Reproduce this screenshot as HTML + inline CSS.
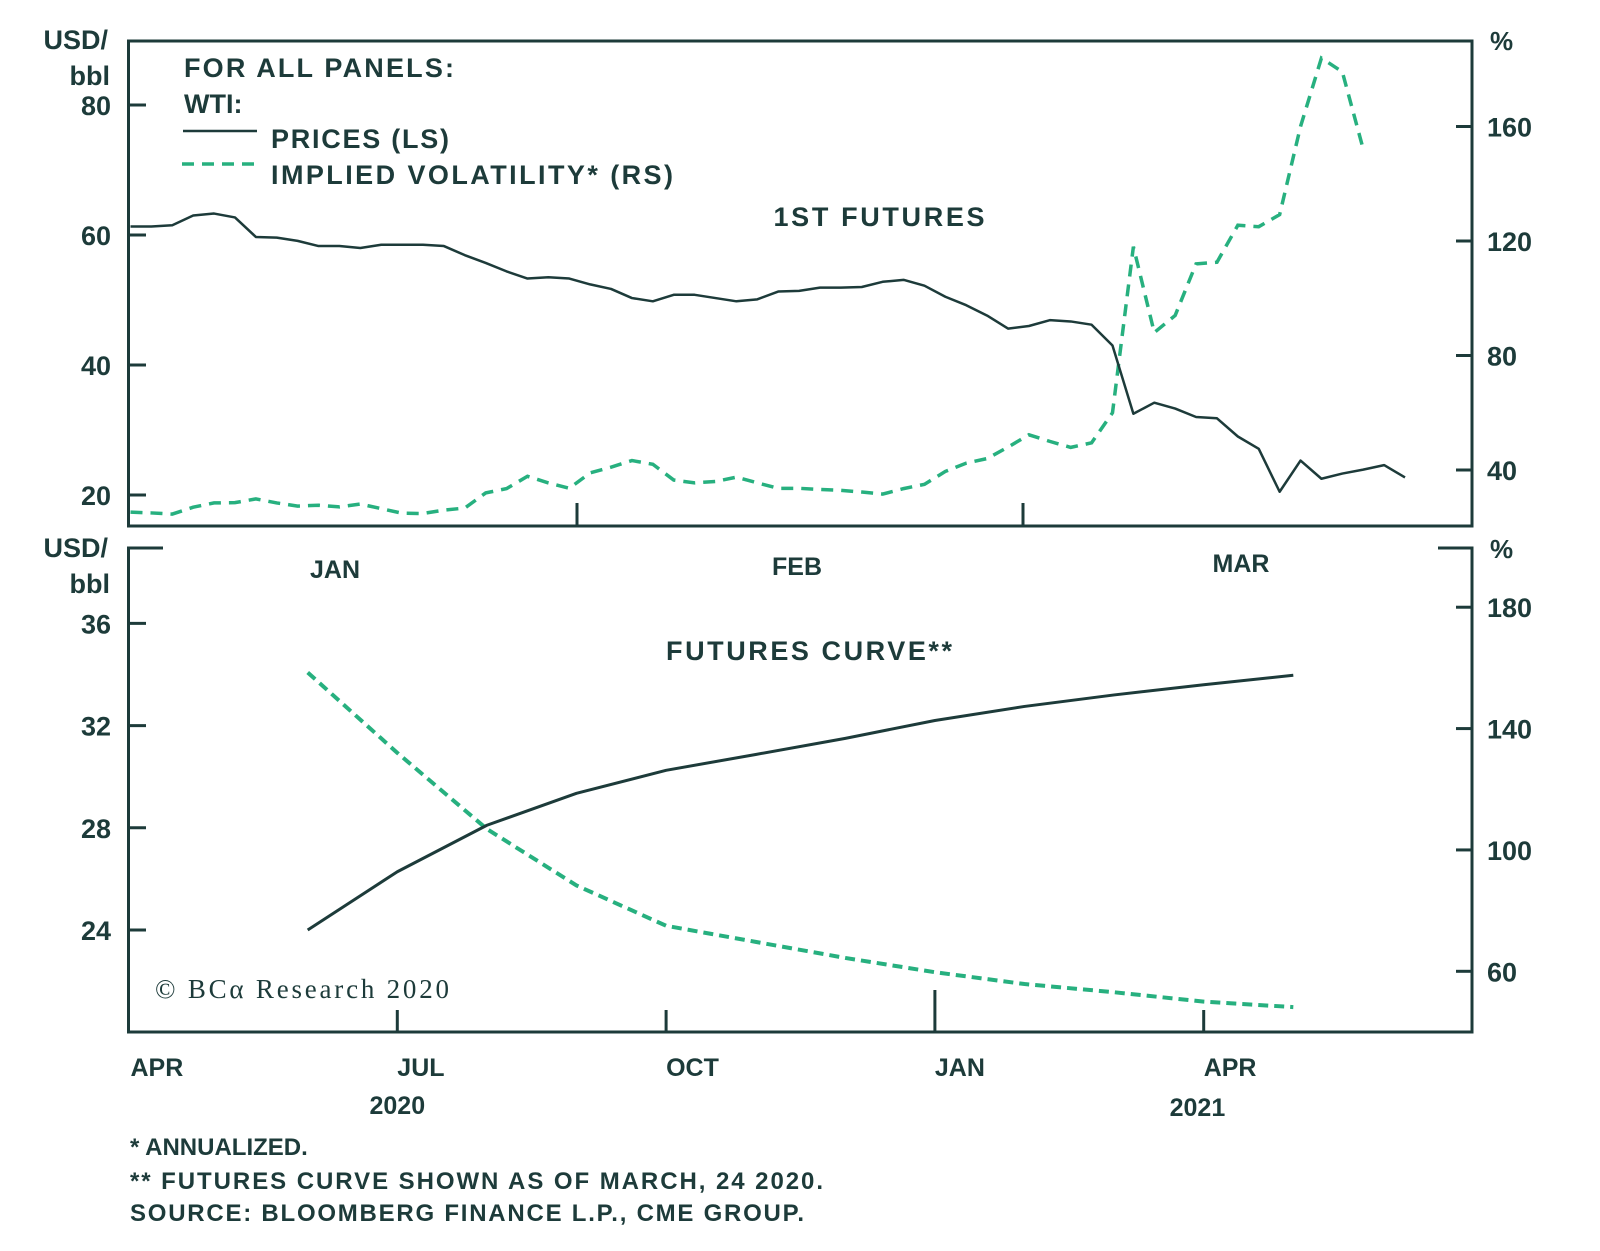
<!DOCTYPE html>
<html><head><meta charset="utf-8"><style>
html,body{margin:0;padding:0;background:#fff;}
svg{display:block;}
text{font-family:"Liberation Sans",sans-serif;font-weight:bold;fill:#1d3b3a;}
</style></head><body>
<svg id="chart" width="1600" height="1251" viewBox="0 0 1600 1251" xmlns="http://www.w3.org/2000/svg">
<g id="static">
  <rect x="128.5" y="41" width="1343.5" height="485" fill="none" stroke="#1d3b3a" stroke-width="3"/>
  <path d="M163 548 H128.5 V1032 H1472 V548 H1438" fill="none" stroke="#1d3b3a" stroke-width="3"/>
  <text x="108" y="49" font-size="27" text-anchor="end">USD/</text>
  <text x="110" y="85" font-size="27" text-anchor="end">bbl</text>
  <text x="1490" y="50" font-size="26">%</text>
  <text x="108" y="557" font-size="27" text-anchor="end">USD/</text>
  <text x="110" y="593" font-size="27" text-anchor="end">bbl</text>
  <text x="1490" y="558" font-size="26">%</text>
  <text x="184" y="77" font-size="27" textLength="270">FOR ALL PANELS:</text>
  <text x="184" y="113" font-size="27">WTI:</text>
  <line x1="183" y1="131" x2="257" y2="131" stroke="#1d3b3a" stroke-width="2.5"/>
  <text x="271" y="148" font-size="27" textLength="178">PRICES (LS)</text>
  <line x1="182" y1="164" x2="255" y2="164" stroke="#27b07f" stroke-width="3.5" stroke-dasharray="12 8"/>
  <text x="271" y="184" font-size="27" textLength="402">IMPLIED VOLATILITY* (RS)</text>
  <text x="879" y="226" font-size="27" text-anchor="middle" textLength="211">1ST FUTURES</text>
  <text x="809" y="660" font-size="27" text-anchor="middle" textLength="286">FUTURES CURVE**</text>
  <text x="155" y="998" font-size="27" style="font-family:'Liberation Serif',serif;font-weight:normal" textLength="294">© BCα Research 2020</text>
  <text x="130" y="1155" font-size="24">*  ANNUALIZED.</text>
  <text x="130" y="1189" font-size="24" textLength="693">** FUTURES CURVE SHOWN AS OF MARCH, 24 2020.</text>
  <text x="130" y="1221" font-size="24" textLength="674">SOURCE: BLOOMBERG FINANCE L.P., CME GROUP.</text>
</g>
<g id="dyn"></g>
</svg>
<script>
const topPrice = [61.3,61.3,61.5,63.0,63.3,62.7,59.7,59.6,59.1,58.3,58.3,58.0,58.5,58.5,58.5,58.3,56.9,55.7,54.4,53.3,53.5,53.3,52.4,51.7,50.3,49.8,50.8,50.8,50.3,49.8,50.1,51.3,51.4,51.9,51.9,52.0,52.8,53.1,52.2,50.5,49.2,47.6,45.6,46.0,46.9,46.7,46.2,43.0,32.5,34.2,33.3,32.0,31.8,29.0,27.1,20.5,25.3,22.5,23.3,23.9,24.6,22.7];
const topVol = [25.3,25.0,24.6,27.0,28.5,28.6,29.9,28.5,27.4,27.7,27.1,28.1,26.5,24.9,24.8,26.0,26.7,32.0,33.5,37.8,35.5,33.6,39.0,41.0,43.3,42.0,36.5,35.5,36.0,37.5,35.5,33.6,33.6,33.2,32.9,32.3,31.6,33.5,35.0,39.5,42.4,44.0,48.0,52.3,50.0,47.9,49.5,60.0,118.0,88.0,94.0,112.0,112.6,125.5,125.0,129.2,160.0,183.9,179.1,152.1];
const topLeftTicks = [20,40,60,80];
const topRightTicks = [40,80,120,160];
const topMonths = ["JAN","FEB","MAR"];
const curveMonths = [2,3,4,5,6,7,8,9,10,11,12,13];
const curvePrice = [24.0,26.28,28.1,29.35,30.25,30.87,31.5,32.2,32.75,33.2,33.6,33.97];
const curveVol = [158.5,132,106.9,88.3,75.0,69.7,64.4,59.7,55.8,53.1,50.0,48.2];
const botLeftTicks = [24,28,32,36];
const botRightTicks = [60,100,140,180];
const botMonthLabels = ["APR","JUL","OCT","JAN","APR"];
const botMonthIdx = [0,3,6,9,12];
const yearLabels = ["2020","2021"];

const xTop = i => 130.5 + i*(1405-130.5)/61;
const yTopL = v => 495 - (v-20)*6.5;
const yTopR = v => 470 - (v-40)*2.8625;
const xBot = m => 128.5 + m*89.6;
const yBotL = v => 930 - (v-24)*25.55;
const yBotR = v => 971.3 - (v-60)*3.034;

const NS = "http://www.w3.org/2000/svg";
const dyn = document.getElementById("dyn");
function mk(tag, attrs){const e=document.createElementNS(NS,tag);for(const k in attrs)e.setAttribute(k,attrs[k]);dyn.appendChild(e);return e;}
const DARK="#1d3b3a", GREEN="#27b07f";

topLeftTicks.forEach(v=>{
  const l=mk("line",{x1:128.5,x2:146,y1:yTopL(v),y2:yTopL(v),stroke:DARK,"stroke-width":3});
  
  
  const t=mk("text",{x:111,y:yTopL(v)+10,"font-size":27,"text-anchor":"end"});t.textContent=v;
  
  
});
topRightTicks.forEach(v=>{
  const l=mk("line",{x1:1456,x2:1472,y1:yTopR(v),y2:yTopR(v),stroke:DARK,"stroke-width":3});
  
  
  const t=mk("text",{x:1487,y:yTopR(v)+10,"font-size":27});t.textContent=v;
  
  
});
[577,1023].forEach(x=>{
  const l=mk("line",{x1:x,x2:x,y1:503,y2:526,stroke:DARK,"stroke-width":3});
  
  
});
[335,797,1241].forEach((x,i)=>{
  const t=mk("text",{x:x,y:[578,575,572][i],"font-size":25,"text-anchor":"middle"});t.textContent=topMonths[i];
  
  
});
botLeftTicks.forEach(v=>{
  const l=mk("line",{x1:128.5,x2:146,y1:yBotL(v),y2:yBotL(v),stroke:DARK,"stroke-width":3});
  
  
  const t=mk("text",{x:111,y:yBotL(v)+10,"font-size":27,"text-anchor":"end"});t.textContent=v;
  
  
});
botRightTicks.forEach(v=>{
  const l=mk("line",{x1:1456,x2:1472,y1:yBotR(v),y2:yBotR(v),stroke:DARK,"stroke-width":3});
  
  
  const t=mk("text",{x:1487,y:yBotR(v)+10,"font-size":27});t.textContent=v;
  
  
});
botMonthIdx.forEach((m,i)=>{
  if(i>0){
    const l=mk("line",{x1:xBot(m),x2:xBot(m),y1:(m===9?990:1010),y2:1032,stroke:DARK,"stroke-width":3});
    
    
  }
  const t=mk("text",{x:xBot(m)+(i===0?2:0),y:1076,"font-size":25});t.textContent=botMonthLabels[i];
  
  
});
[[3,1114],[11.93,1116]].forEach((p,i)=>{
  const t=mk("text",{x:xBot(p[0]),y:p[1],"font-size":25,"text-anchor":"middle"});t.textContent=yearLabels[i];
  
  
});

const p1=mk("polyline",{points:topVol.map((v,i)=>xTop(i)+","+yTopR(v)).join(" "),fill:"none",stroke:GREEN,"stroke-width":3.5,"stroke-dasharray":"12 8"});


const p2=mk("polyline",{points:topPrice.map((v,i)=>xTop(i)+","+yTopL(v)).join(" "),fill:"none",stroke:DARK,"stroke-width":2.5,"stroke-linejoin":"round"});


const p3=mk("polyline",{points:curveVol.map((v,i)=>xBot(curveMonths[i])+","+yBotR(v)).join(" "),fill:"none",stroke:GREEN,"stroke-width":4,"stroke-dasharray":"10 6"});


const p4=mk("polyline",{points:curvePrice.map((v,i)=>xBot(curveMonths[i])+","+yBotL(v)).join(" "),fill:"none",stroke:DARK,"stroke-width":3,"stroke-linejoin":"round"});


</script>
</body></html>
